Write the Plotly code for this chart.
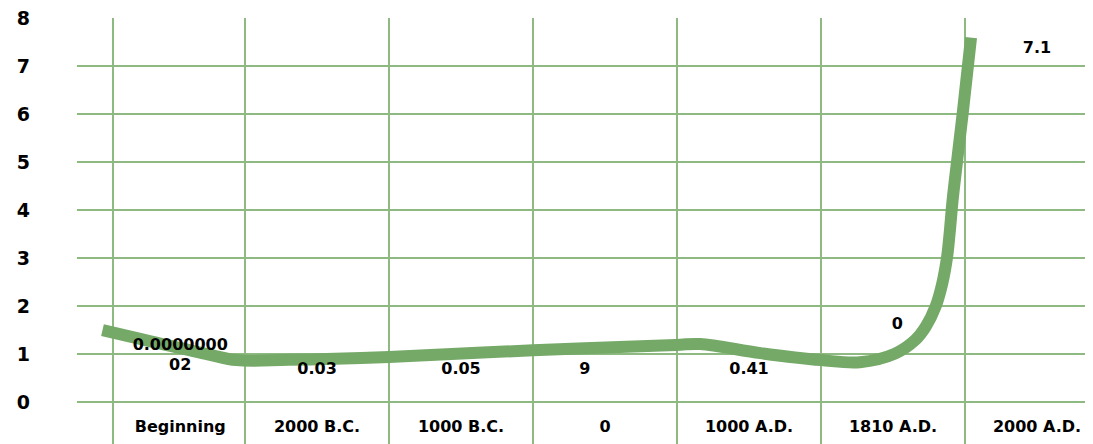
import plotly.graph_objects as go

# ---- data ----
categories = ["Beginning", "2000 B.C.", "1000 B.C.", "0", "1000 A.D.", "1810 A.D.", "2000 A.D."]
label_text = ["0.0000000<br>02", "0.03", "0.05", "9", "0.41", "0", "7.1"]
label_y = [0.96, 0.67, 0.67, 0.67, 0.67, 1.6, 7.37]

# freehand curve (x in category units, y in axis units)
curve_x = [-0.49, 0.25, 0.44, 0.8, 1.5, 2.5, 3.49, 3.66, 4.08, 4.5, 4.77, 5.014, 5.153,
           5.227, 5.297, 5.342, 5.375, 5.393, 5.414, 5.444, 5.484, 5.542]
curve_y = [1.5, 0.99, 0.875, 0.88, 0.94, 1.08, 1.19, 1.21, 1.02, 0.875, 0.83, 1.01, 1.29,
           1.57, 2.0, 2.47, 3.01, 3.51, 4.21, 5.0, 6.02, 7.6]

y_ticks = [0, 1, 2, 3, 4, 5, 6, 7, 8]

# ---- placement ----
column_edges = [-0.417, 0.5, 1.5, 2.5, 3.5, 4.5, 5.5]
cat_x = [0.05, 1, 2, 3, 4, 5, 6]
label_x = [0.05, 1, 2, 2.86, 4, 5.03, 6]

GREEN = "rgb(117,169,104)"
GRID = "rgb(142,186,130)"
FONT = "DejaVu Sans"

fig = go.Figure()

fig.add_trace(go.Scatter(
    x=curve_x, y=curve_y, mode="lines",
    line=dict(color=GREEN, width=12, shape="spline", smoothing=1.0),
    hoverinfo="skip", showlegend=False,
))

fig.add_trace(go.Scatter(
    x=label_x, y=label_y, mode="text", text=label_text,
    textposition="middle center",
    textfont=dict(family=FONT, size=16, color="black", weight=700),
    showlegend=False, cliponaxis=False,
))

fig.add_trace(go.Scatter(
    x=cat_x, y=[-0.54] * len(categories), mode="text",
    text=categories, textposition="middle center",
    textfont=dict(family=FONT, size=16, color="black", weight=700),
    showlegend=False, cliponaxis=False,
))

fig.update_layout(
    width=1085, height=436,
    margin=dict(l=69, r=0, t=10, b=0, autoexpand=False),
    paper_bgcolor="white", plot_bgcolor="white",
    xaxis=dict(
        range=[-0.667, 6.389], showticklabels=False, showgrid=False,
        zeroline=False, showline=False, ticks="", automargin=False,
        minor=dict(tickmode="array", tickvals=column_edges, showgrid=True,
                   gridcolor=GRID, gridwidth=1.5, ticks=""),
    ),
    yaxis=dict(
        range=[-0.875, 8.01], tickmode="array", tickvals=y_ticks,
        showgrid=True, gridcolor=GRID, gridwidth=1.5,
        zeroline=False, showline=False, ticks="", automargin=False,
        tickfont=dict(family=FONT, size=19, color="black", weight=700),
        ticklabelstandoff=46, ticklabeloverflow="allow",
    ),
)

fig.write_html("out.html")
